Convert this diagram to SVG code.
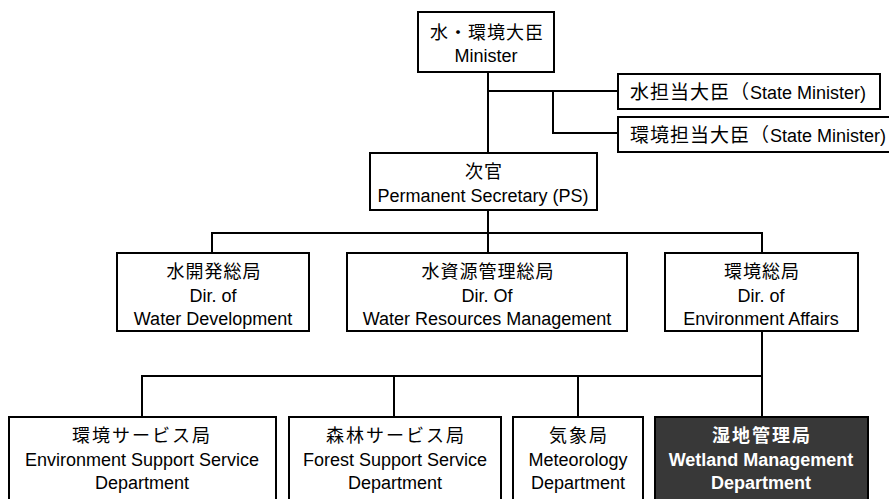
<svg xmlns="http://www.w3.org/2000/svg" width="889" height="499" viewBox="0 0 889 499">
<style>
.box{fill:#fff;stroke:#000;stroke-width:2}
.dark{fill:#383838;stroke:#000;stroke-width:2}
.ln{fill:none;stroke:#000;stroke-width:2}
text{font-family:"Liberation Sans","Noto Sans CJK JP",sans-serif;font-size:18px;fill:#000;text-anchor:middle}
.jp{font-family:"Noto Sans CJK JP",sans-serif;font-size:18px;letter-spacing:1px}
.w{fill:#fff;font-weight:bold}
.l{text-anchor:start}
</style>
<rect width="889" height="499" fill="#fff"/>
<g id="connectors">
<path class="ln" d="M488 72V153M488 91H618M553 91V133H618"/>
<path class="ln" d="M488 210V253M212 253V233H762V253"/>
<path class="ln" d="M762 331V417M142 417V376H762M394 376V417M578 376V417"/>
</g>
<g id="minister">
<rect class="box" x="418" y="12" width="136" height="60"/>
<text class="jp" x="487" y="39">水・環境大臣</text>
<text x="486" y="62">Minister</text>
</g>
<g id="state-water">
<rect class="box" x="618" y="74" width="262" height="35"/>
<text class="l" x="630" y="99"><tspan class="jp" style="font-size:19px">水担当大臣（</tspan>State Minister)</text>
</g>
<g id="state-env">
<rect class="box" x="618" y="117" width="272" height="35"/>
<text class="l" x="630" y="142"><tspan class="jp" style="font-size:19px">環境担当大臣（</tspan>State Minister)</text>
</g>
<g id="ps">
<rect class="box" x="370" y="153" width="227" height="57"/>
<text class="jp" x="484" y="178">次官</text>
<text x="483" y="202">Permanent Secretary (PS)</text>
</g>
<g id="water-dev">
<rect class="box" x="117" y="253" width="192" height="78"/>
<text class="jp" x="214" y="278">水開発総局</text>
<text x="213" y="302">Dir. of</text>
<text x="213" y="325">Water Development</text>
</g>
<g id="water-res">
<rect class="box" x="347" y="253" width="280" height="78"/>
<text class="jp" x="488" y="278">水資源管理総局</text>
<text x="487" y="302">Dir. Of</text>
<text x="487" y="325">Water Resources Management</text>
</g>
<g id="env-affairs">
<rect class="box" x="665" y="253" width="193" height="78"/>
<text class="jp" x="762" y="278">環境総局</text>
<text x="761" y="302">Dir. of</text>
<text x="761" y="325">Environment Affairs</text>
</g>
<g id="env-support">
<rect class="box" x="9" y="417" width="267" height="90"/>
<text class="jp" x="142" y="442" style="letter-spacing:2px">環境サービス局</text>
<text x="142" y="466">Environment Support Service</text>
<text x="142" y="489">Department</text>
</g>
<g id="forest">
<rect class="box" x="289" y="417" width="212" height="90"/>
<text class="jp" x="396" y="442" style="letter-spacing:2px">森林サービス局</text>
<text x="395" y="466">Forest Support Service</text>
<text x="395" y="489">Department</text>
</g>
<g id="meteo">
<rect class="box" x="513" y="417" width="130" height="90"/>
<text class="jp" x="579" y="442" style="letter-spacing:2px">気象局</text>
<text x="578" y="466">Meteorology</text>
<text x="578" y="489">Department</text>
</g>
<g id="wetland">
<rect class="dark" x="655" y="417" width="213" height="90"/>
<text class="jp w" x="762" y="442" style="letter-spacing:2px">湿地管理局</text>
<text class="w" x="761" y="466">Wetland Management</text>
<text class="w" x="761" y="489">Department</text>
</g>
</svg>
